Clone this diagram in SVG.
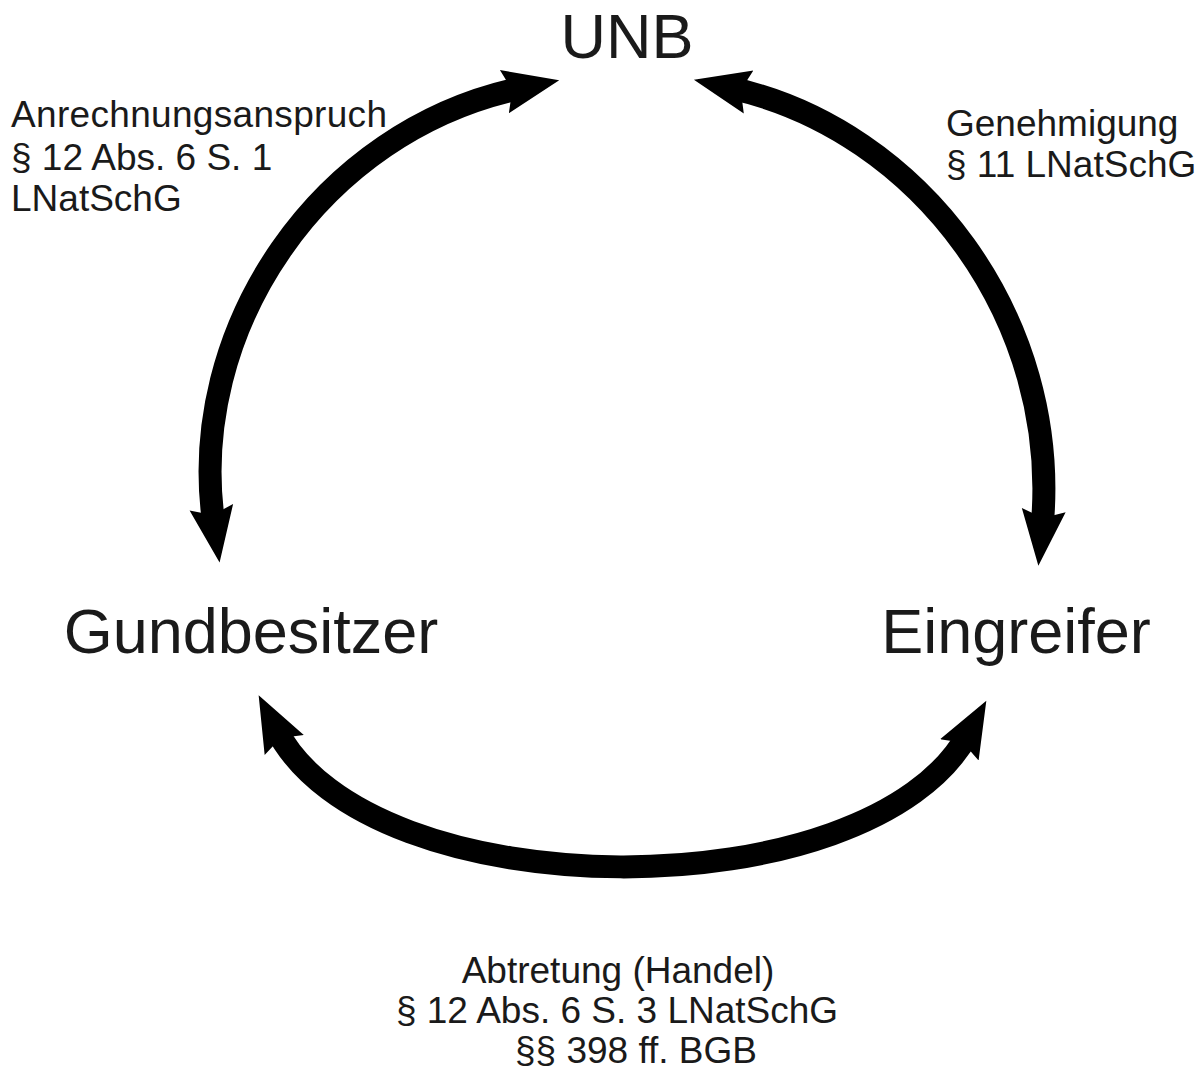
<svg xmlns="http://www.w3.org/2000/svg" width="1204" height="1079" viewBox="0 0 1204 1079">
  <style>
    .node { font-family: "Liberation Sans", Arial, sans-serif; font-size: 63px; fill: #1a1a1a; text-anchor: middle; }
    .lbl { font-family: "Liberation Sans", Arial, sans-serif; font-size: 37px; fill: #1a1a1a; }
    .arc { fill: none; stroke: #000; stroke-width: 23; stroke-linecap: butt; marker-start: url(#head); marker-end: url(#head); }
  </style>
  <defs>
    <marker id="head" markerUnits="userSpaceOnUse" viewBox="0 -25 60 50" markerWidth="60" markerHeight="50" refX="18" refY="0" orient="auto-start-reverse">
      <path d="M0,-22 L56,0 L0,22 L8,0 Z" fill="#000"/>
    </marker>
  </defs>
  <rect width="1204" height="1079" fill="#fff"/>

  <g id="connectors">
    <path id="edge-left" class="arc" d="M 214 525 C 185 330, 320 130, 522 88"/>
    <path id="edge-right" class="arc" d="M 731 88 C 920 130, 1062 320, 1042 528"/>
    <path id="edge-bottom" class="arc" d="M 276 729 C 370 912, 870 912, 968 734"/>
  </g>

  <g id="node-unb">
    <text class="node" x="627" y="58">UNB</text>
  </g>
  <g id="node-grundbesitzer">
    <text class="node" x="251" y="653">Gundbesitzer</text>
  </g>
  <g id="node-eingreifer">
    <text class="node" x="1016" y="653">Eingreifer</text>
  </g>

  <g id="label-left">
    <text class="lbl" x="11" y="127" textLength="376">Anrechnungsanspruch</text>
    <text class="lbl" x="11" y="170">§ 12 Abs. 6 S. 1</text>
    <text class="lbl" x="11" y="211">LNatSchG</text>
  </g>
  <g id="label-right">
    <text class="lbl" x="946" y="136">Genehmigung</text>
    <text class="lbl" x="946" y="177">§ 11 LNatSchG</text>
  </g>
  <g id="label-bottom">
    <text class="lbl" x="618" y="983" text-anchor="middle">Abtretung (Handel)</text>
    <text class="lbl" x="617" y="1023" text-anchor="middle">§ 12 Abs. 6 S. 3 LNatSchG</text>
    <text class="lbl" x="636" y="1063" text-anchor="middle" font-size="35">§§ 398 ff. BGB</text>
  </g>
</svg>
